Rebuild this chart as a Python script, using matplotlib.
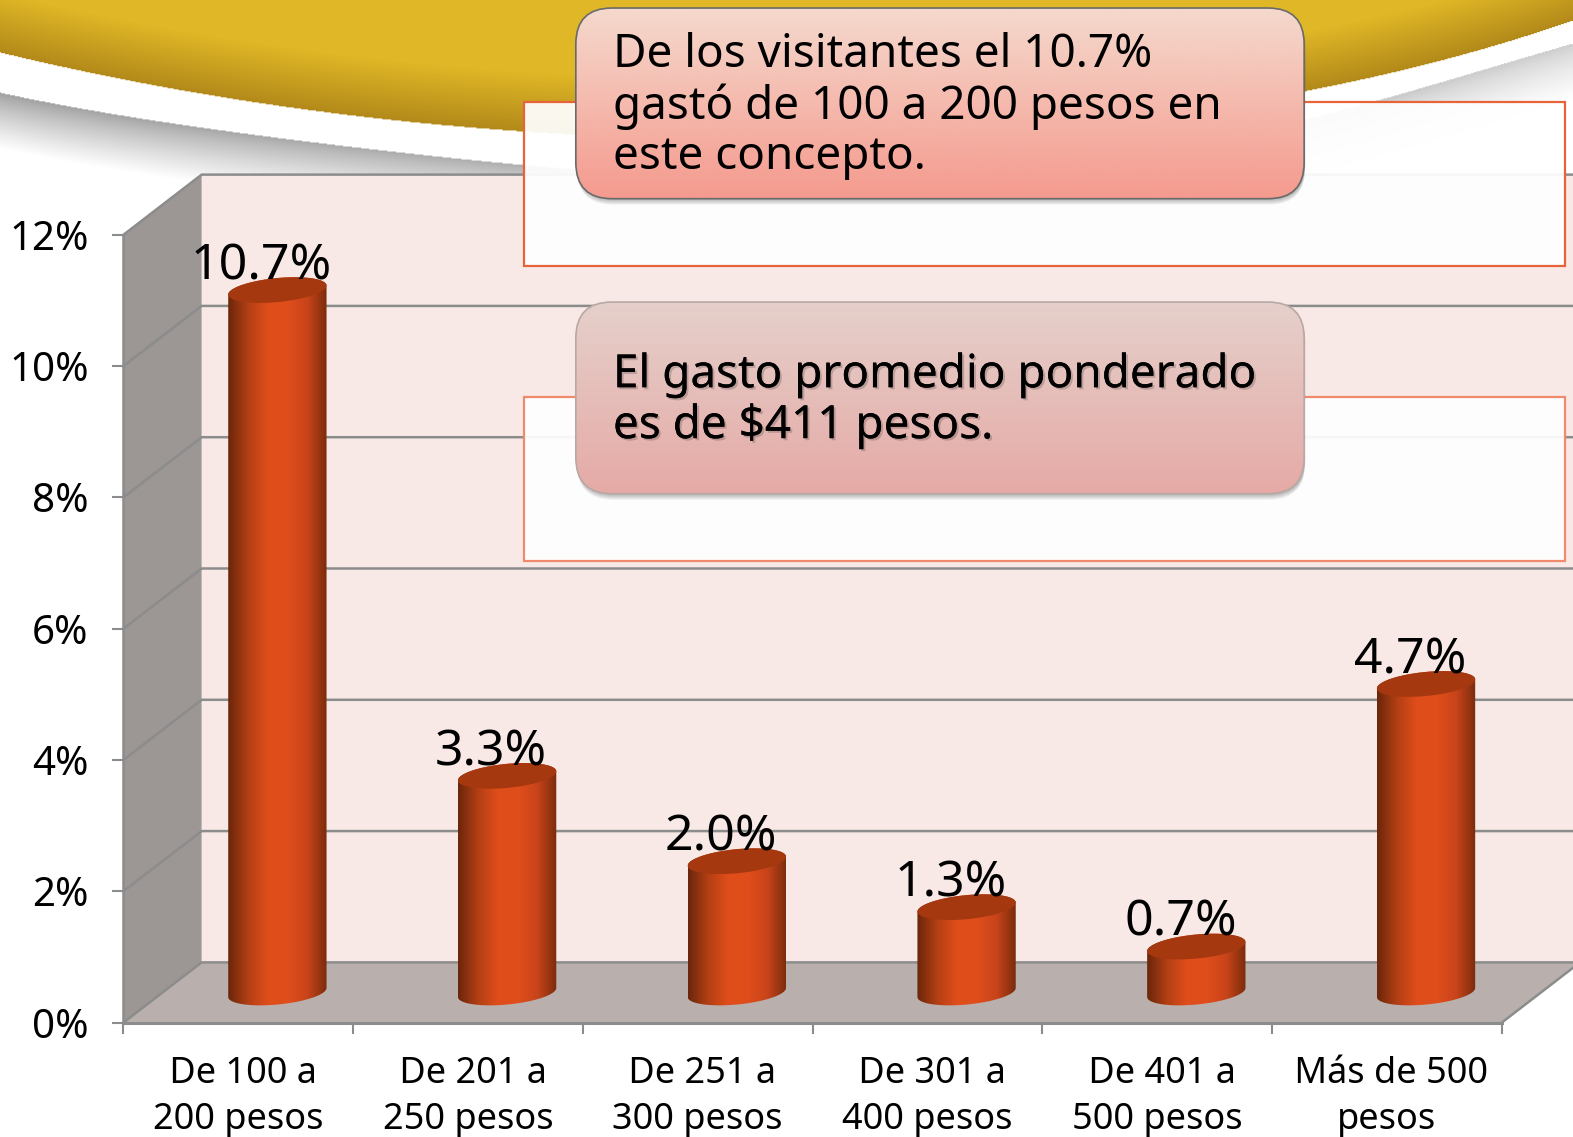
import numpy as np
import matplotlib
matplotlib.use('Agg')
import matplotlib.pyplot as plt
import matplotlib.patheffects as pe
from matplotlib.patches import Polygon, FancyBboxPatch, Rectangle
from matplotlib.colors import LinearSegmentedColormap

categories = [' De 100 a\n200 pesos', ' De 201 a\n250 pesos', ' De 251 a\n300 pesos',
              ' De 301 a\n400 pesos', ' De 401 a\n500 pesos', ' Más de 500\npesos']
values = [10.7, 3.3, 2.0, 1.3, 0.7, 4.7]
value_labels = ['10.7%', '3.3%', '2.0%', '1.3%', '0.7%', '4.7%']
y_ticks = [0, 2, 4, 6, 8, 10, 12]
y_tick_labels = ['0%', '2%', '4%', '6%', '8%', '10%', '12%']
note_top = 'De los visitantes el 10.7%\ngastó de 100 a 200 pesos en\neste concepto.'
note_bottom = 'El gasto promedio ponderado\nes de $411 pesos.'

plt.rcParams['font.family'] = ['DejaVu Sans']
FONT = 'Noto Sans'
W, H = 1568, 1133
GRID = '#8c8c8c'

fig = plt.figure(figsize=(15.73, 11.37), dpi=100)


# ------------------------------
# Background swoosh
# ------------------------------
def edge(pts, xs):
    px, py = zip(*pts)
    return np.polyval(np.polyfit(np.array(px) / W, py, 5), xs / W)


bg = fig.add_axes([0, 0, 1, 1], zorder=0)
xs = np.arange(W)
gold_edge = edge([(0, 52), (204, 93), (408, 122), (525, 130), (900, 135), (1305, 90), (1433, 60), (1568, 20)], xs)
grey_edge = edge([(0, 92), (204, 127), (408, 153), (525, 164), (900, 178), (1373, 100), (1467, 72), (1568, 43)], xs)
yy, xx = np.mgrid[0:H, 0:W]
img = np.ones((H, W, 3))
d_gold = gold_edge[None, :] - yy
t = np.clip(d_gold / 60, 0, 1)[..., None]
gold = np.array([0.70, 0.54, 0.10]) * (1 - t) + np.array([0.88, 0.72, 0.15]) * t
mask = d_gold > 0
img[mask] = gold[mask]
d_grey = yy - grey_edge[None, :]
t = np.clip(d_grey / 55, 0, 1)
shade = 0.62 + 0.38 * t ** 0.8
shade = shade + (xx / W) * 0.18 * (1 - t)
mask = d_grey > 0
img[mask] = np.clip(shade[mask], 0, 1)[:, None]
bg.imshow(img, extent=(0, W, H, 0), aspect='auto', interpolation='bilinear')
bg.set_xlim(0, W)
bg.set_ylim(H, 0)
bg.axis('off')

# ------------------------------
# Chart, front plane of the 3D box is the axes
# ------------------------------
left, right, base, top = 123, 1497, 1019, 234
ax = fig.add_axes([left / W, 1 - base / H, (right - left) / W, (base - top) / H], zorder=1)
ax.patch.set_alpha(0)
ax.set_xlim(0, 6)
ax.set_ylim(0, 12)
DX = 78 / ((right - left) / 6)
DY = 60 / ((base - top) / 12)
XEND = 6 + DX

ax.add_patch(Polygon([(DX, DY), (XEND + 1, DY), (XEND + 1, 12 + DY), (DX, 12 + DY)], fc='#f8e9e6', ec='none',
                     clip_on=False, zorder=1))
ax.add_patch(Polygon([(0, 0), (DX, DY), (DX, 12 + DY), (0, 12)], fc='#9c9694', ec='none', clip_on=False, zorder=1))
ax.add_patch(Polygon([(0, 0), (DX, DY), (XEND, DY), (6, 0)], fc='#b9b0ad', ec='none', clip_on=False, zorder=1))
for v in y_ticks:
    ax.plot([0, DX, XEND + 1], [v, v + DY, v + DY], color=GRID, lw=1.8, clip_on=False, zorder=2)
ax.plot([6, XEND], [0, DY], color=GRID, lw=1.8, clip_on=False, zorder=2)
ax.plot([0, 0], [0, 12], color=GRID, lw=1.8, clip_on=False, zorder=2)
ax.plot([0, 6], [0, 0], color=GRID, lw=2.2, clip_on=False, zorder=2)

ax.set_yticks(y_ticks)
ax.set_yticklabels(y_tick_labels, fontname=FONT, fontsize=29)
ax.set_xticks(np.arange(7))
ax.set_xticklabels([])
ax.set_xticks(np.arange(6) + 0.5, minor=True)
ax.set_xticklabels(categories, minor=True, fontname=FONT, fontsize=26, linespacing=1.36)
ax.tick_params(axis='x', which='major', length=8, width=1.5, color=GRID)
ax.tick_params(axis='x', which='minor', length=0, pad=24)
ax.tick_params(axis='y', length=8, width=1.5, color=GRID, pad=17)
for s in ax.spines.values():
    s.set_visible(False)

# cylinders
cyl_cmap = LinearSegmentedColormap.from_list('cyl', ['#6b260b', '#b23f14', '#df4d1b', '#e04e1c', '#c9441a', '#7a2c0c'])
px_x = (right - left) / 6
px_y = (base - top) / 12
a = 49 / px_x
b = 12 / px_y
shear = 4.5 / px_y
tt = np.linspace(0, 2 * np.pi, 100)
grad = np.linspace(0, 1, 256)[None, :]

for i, val in enumerate(values):
    cx = i + 0.5 + DX / 2
    y0 = DY / 2
    y1 = val + y0
    # bottom half of the lower ellipse and whole body
    lower = np.linspace(np.pi, 2 * np.pi, 50)
    upper = np.linspace(0, np.pi, 50)
    bx = np.r_[cx + a * np.cos(lower), cx + a * np.cos(upper)]
    by = np.r_[y0 + b * np.sin(lower) + shear * np.cos(lower), y1 + b * np.sin(upper) + shear * np.cos(upper)]
    body = Polygon(np.c_[bx, by], fc='none', ec='none', transform=ax.transData)
    ax.add_patch(body)
    im = ax.imshow(grad, cmap=cyl_cmap, extent=(cx - a, cx + a, y0 - 2, y1 + 2), aspect='auto', zorder=3)
    im.set_clip_path(body)
    ax.add_patch(Polygon(np.c_[cx + a * np.cos(tt), y1 + b * np.sin(tt) + shear * np.cos(tt)],
                         fc='#a5380f', ec='none', zorder=4, clip_on=False))
    ax.annotate(value_labels[i], (cx, y1), xytext=(-11.5, 17), textcoords='offset points', ha='center', va='center',
                fontname=FONT, fontsize=36, color='black', zorder=5, annotation_clip=False)
ax.set_xlim(0, 6)
ax.set_ylim(0, 12)

# ------------------------------
# Boxes on top
# ------------------------------
over = fig.add_axes([0, 0, 1, 1], zorder=2)
over.patch.set_alpha(0)
over.set_xlim(0, W)
over.set_ylim(H, 0)
over.axis('off')

over.add_patch(Rectangle((522, 102), 1038, 163, fc='white', alpha=0.93, ec='none'))
over.add_patch(Rectangle((522, 102), 1038, 163, fc='none', ec='#e8623a', lw=1.6))
over.add_patch(Rectangle((522, 396), 1038, 163, fc='white', alpha=0.93, ec='none'))
over.add_patch(Rectangle((522, 396), 1038, 163, fc='none', ec='#f08a6a', lw=1.6))


def callout(x0, y0, x1, y1, c_top, c_bottom, edge_c, text, text_y, shadow_text=False):
    box = dict(boxstyle='round,pad=0,rounding_size=36')
    for k in range(1, 7):
        over.add_patch(FancyBboxPatch((x0 + 1, y0 + k), x1 - x0, y1 - y0, fc='black', alpha=0.05, ec='none', **box))
    patch = FancyBboxPatch((x0, y0), x1 - x0, y1 - y0, fc='none', ec=edge_c, lw=1.2, zorder=3, **box)
    over.add_patch(patch)
    cmap = LinearSegmentedColormap.from_list('b', [c_top, c_bottom])
    im = over.imshow(np.linspace(0, 1, 256)[:, None], cmap=cmap, extent=(x0, x1, y1, y0), aspect='auto', zorder=2)
    im.set_clip_path(patch)
    txt = over.text(x0 + 37, text_y, text, fontname=FONT, fontsize=33, va='top', ha='left', linespacing=1.14,
                    color='black', zorder=4)
    if shadow_text:
        txt.set_path_effects([pe.withSimplePatchShadow(offset=(1.5, -1.5), shadow_rgbFace='black', alpha=0.18),
                              pe.Normal()])


callout(574, 8, 1300, 198, '#f5d9cd', '#f59a8e', '#6a6a6a', note_top, 32)
callout(574, 301, 1300, 492, '#e6d0cb', '#e5aaa6', '#b8a8a4', note_bottom, 351, shadow_text=True)
over.set_xlim(0, W)
over.set_ylim(H, 0)

plt.savefig('out.png', dpi=100)
